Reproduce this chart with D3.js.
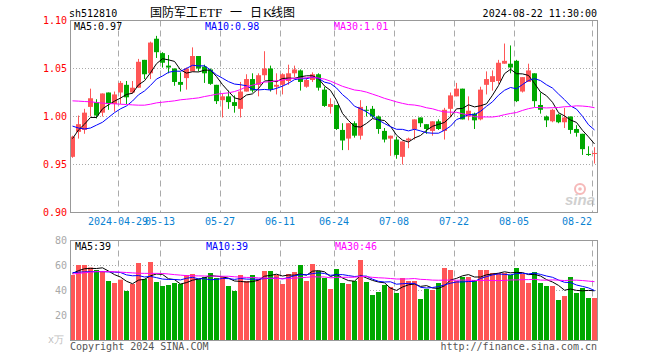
<!DOCTYPE html>
<html><head><meta charset="utf-8">
<script src="https://cdn.jsdelivr.net/npm/d3@7/dist/d3.min.js"></script>
<style>body{margin:0;background:#fff}svg{display:block}</style>
</head><body><svg id="c" width="660" height="360"></svg>
<script>
// ---------- data ----------
const dates = ["2024-04-17","2024-04-18","2024-04-19","2024-04-22","2024-04-23","2024-04-24","2024-04-25","2024-04-26",
"2024-04-29","2024-04-30","2024-05-06","2024-05-07","2024-05-08","2024-05-09","2024-05-10",
"2024-05-13","2024-05-14","2024-05-15","2024-05-16","2024-05-17","2024-05-20","2024-05-21","2024-05-22","2024-05-23","2024-05-24",
"2024-05-27","2024-05-28","2024-05-29","2024-05-30","2024-05-31","2024-06-03","2024-06-04","2024-06-05","2024-06-06","2024-06-07",
"2024-06-11","2024-06-12","2024-06-13","2024-06-14","2024-06-17","2024-06-18","2024-06-19","2024-06-20","2024-06-21",
"2024-06-24","2024-06-25","2024-06-26","2024-06-27","2024-06-28","2024-07-01","2024-07-02","2024-07-03","2024-07-04","2024-07-05",
"2024-07-08","2024-07-09","2024-07-10","2024-07-11","2024-07-12","2024-07-15","2024-07-16","2024-07-17","2024-07-18","2024-07-19",
"2024-07-22","2024-07-23","2024-07-24","2024-07-25","2024-07-26","2024-07-29","2024-07-30","2024-07-31","2024-08-01","2024-08-02",
"2024-08-05","2024-08-06","2024-08-07","2024-08-08","2024-08-09","2024-08-12","2024-08-13","2024-08-14","2024-08-15","2024-08-16",
"2024-08-19","2024-08-20","2024-08-21","2024-08-22"];

const open  = [0.958,0.984,0.986,1.010,1.015,1.004,1.025,1.013,1.025,1.033,1.025,1.030,1.059,1.045,1.081,
1.066,1.053,1.050,1.036,1.040,1.047,1.063,1.052,1.049,1.033,1.017,1.021,1.015,1.008,1.026,
1.039,1.033,1.043,1.050,1.031,1.033,1.037,1.045,1.048,1.031,1.038,1.044,1.028,1.010,1.012,
0.986,0.977,0.993,0.980,1.007,1.008,1.000,0.985,0.977,0.976,0.958,0.975,0.987,0.999,0.992,
0.985,0.995,0.985,1.008,1.021,1.029,1.000,1.003,0.997,1.033,1.036,1.037,1.055,1.055,1.058,
1.026,1.036,1.045,1.012,1.000,0.995,1.002,0.994,1.000,0.987,0.982,0.961,0.961];
const high  = [0.980,1.001,1.008,1.029,1.018,1.024,1.025,1.026,1.037,1.037,1.037,1.060,1.059,1.078,1.084,
1.067,1.064,1.050,1.046,1.051,1.072,1.063,1.054,1.050,1.033,1.024,1.027,1.022,1.036,1.044,
1.045,1.045,1.068,1.053,1.045,1.045,1.054,1.053,1.049,1.040,1.046,1.045,1.031,1.019,1.012,
0.993,0.993,0.995,1.017,1.011,1.011,1.001,0.988,0.980,0.979,0.974,0.978,0.997,0.999,0.992,
0.995,0.997,1.009,1.025,1.035,1.029,1.021,1.004,1.031,1.047,1.048,1.059,1.076,1.074,1.059,
1.041,1.055,1.045,1.025,1.001,1.008,1.003,1.009,1.000,0.991,0.982,0.969,0.968];
const low   = [0.957,0.977,0.982,1.000,0.998,1.000,1.007,1.005,1.013,1.013,1.024,1.030,1.039,1.039,1.061,
1.051,1.045,1.032,1.026,1.028,1.047,1.047,1.035,1.033,1.013,0.999,1.008,1.004,0.999,1.026,
1.025,1.021,1.038,1.026,1.023,1.023,1.033,1.041,1.027,1.030,1.036,1.027,1.010,1.003,0.986,
0.965,0.965,0.978,0.976,1.000,0.998,0.982,0.973,0.959,0.956,0.950,0.967,0.976,0.989,0.982,
0.980,0.986,0.976,0.999,1.021,0.997,0.996,0.987,0.996,1.023,1.027,1.034,1.055,1.045,1.015,
1.025,1.036,1.010,1.003,0.989,0.994,0.993,0.988,0.982,0.979,0.960,0.959,0.951];
const close = [0.979,0.992,1.004,1.019,1.001,1.024,1.013,1.023,1.035,1.020,1.030,1.057,1.044,1.077,1.067,
1.056,1.051,1.036,1.033,1.050,1.063,1.050,1.045,1.034,1.016,1.021,1.015,1.011,1.026,1.039,
1.027,1.043,1.050,1.028,1.033,1.044,1.045,1.049,1.036,1.038,1.044,1.030,1.011,1.013,0.987,
0.975,0.993,0.980,1.010,1.006,1.000,0.987,0.976,0.980,0.960,0.974,0.977,0.997,0.993,0.987,
0.995,0.987,1.007,1.022,1.029,0.997,1.006,0.996,1.028,1.039,1.042,1.056,1.058,1.051,1.016,
1.041,1.048,1.016,1.007,0.996,1.007,0.994,0.999,0.986,0.983,0.966,0.960,0.962];
const volume = [52,60,60,58,56,54.7,47.2,45.6,48.3,39.2,44.8,61.6,48.8,62.4,46.4,43.2,44,45.6,44.8,52,
52.8,48.8,50.4,53.6,49.6,50.4,43.2,39.2,52,47.2,52,48.8,55.2,55.2,52,44.8,52.8,54.4,60,47.2,
60.8,55.2,49.6,40.8,56.8,45.6,44.8,47.2,64,46.4,36,38.4,44,42.4,37.6,49.6,47.2,47.2,32.8,40.8,
40,45.6,57.6,56,47.2,50.4,50.4,48,56,56,53.6,53.6,53.6,52,57.6,52.8,45.6,54.4,45.6,43.2,
43.2,32,35.2,50.4,37.6,41.6,33.6,33.6];

// moving-average values for the bars before a full window exists
const ma5Head  = [0.977,0.986,0.992,0.999];
const ma10Head = [0.990,0.988,0.987,0.988,0.991,0.994,0.999,1.004,1.008];
const ma30Head = [1.0163,1.016,1.0156,1.0153,1.0146,1.0139,1.0135,1.0132,1.0128,1.0125,1.0121,1.0118,1.0118,1.0128,
1.0142,1.0149,1.0156,1.0163,1.0174,1.018,1.0187,1.0194,1.0208,1.0219,1.0232,1.024,1.0246,1.026,1.0281];
const vma5Head  = [53.3,55.5,57,57.3];
const vma10Head = [53.9,54.3,54.5,54.7,54.7,54.7,54.5,54.3,54.0];
const vma30Head = [52.8,53.3,53.8,54.3,54.7,54.7,54.7,54.6,54.3,54.0,53.7,53.4,53.3,53.3,53.3,53.2,52.8,52.3,51.9,
51.5,51.4,51.3,51.2,51.1,51.1,51.0,51.0,50.6,50.3];

const priceTicks = [0.90,0.95,1.00,1.05,1.10];
const volTicks = [20,40,60,80];
const tickDates = ["2024-04-29","2024-05-13","2024-05-27","2024-06-11","2024-06-24","2024-07-08","2024-07-22","2024-08-05","2024-08-22"];
const tickLabels = ["2024-04-29","05-13","05-27","06-11","06-24","07-08","07-22","08-05","08-22"];
const code = "sh512810";
const titleParts = ["国防军工","ETF","一","日","K","线图"];
const stamp = "2024-08-22 11:30:00";
const priceMaLabels = ["MA5:0.97","MA10:0.98","MA30:1.01"];
const volMaLabels = ["MA5:39","MA10:39","MA30:46"];

// ---------- helpers ----------
function ma(arr, n, head){
  return arr.map((v,i)=> i < n-1 ? head[i] : d3.mean(arr.slice(i-n+1,i+1)));
}
const UP = "#ff5656", DOWN = "#00a800";
const MONO = "'DejaVu Sans Mono', 'Liberation Mono', monospace";
const N = dates.length;

const svg = d3.select("#c");
const x = d3.scaleLinear().domain([0, N]).range([70, 598]);
const bw = x(1) - x(0) - 1;
const py = d3.scaleLinear().domain([0.90, 1.10]).range([212.5, 20.5]);
const vy = d3.scaleLinear().domain([0, 80]).range([340, 240]);

// ---------- grids ----------
const gridX = tickDates.map(d => Math.round(x(dates.indexOf(d))) + 0.5);
const g = svg.append("g");
[[20.5,212.5],[240.5,340]].forEach(([t,b])=>{
  g.selectAll(null).data(gridX).join("line")
    .attr("x1",d=>d).attr("x2",d=>d).attr("y1",t).attr("y2",b)
    .attr("stroke","#aaa").attr("stroke-dasharray","6,4");
});
g.selectAll(null).data([0.95,1.00,1.05]).join("line")
  .attr("x1",70).attr("x2",597).attr("y1",d=>py(d)).attr("y2",d=>py(d))
  .attr("stroke","#aaa").attr("stroke-dasharray","1,2");
g.selectAll(null).data([20,40,60]).join("line")
  .attr("x1",70).attr("x2",597).attr("y1",d=>Math.round(vy(d))+0.5).attr("y2",d=>Math.round(vy(d))+0.5)
  .attr("stroke","#aaa").attr("stroke-dasharray","1,2");

// ---------- watermark ----------
const wm = svg.append("g").attr("opacity",0.55);
wm.append("circle").attr("cx",580).attr("cy",189).attr("r",5).attr("fill","none").attr("stroke","#f08080").attr("stroke-width",2);
wm.append("circle").attr("cx",580).attr("cy",189).attr("r",1.8).attr("fill","#f08080");
wm.append("text").attr("x",565).attr("y",205).text("sina")
  .attr("font-family","Arial, 'Liberation Sans', sans-serif").attr("font-style","italic").attr("font-weight","bold")
  .attr("font-size",15).attr("fill","#aaa");

// ---------- candles ----------
const idx = d3.range(N);
const cg = svg.append("g");
cg.selectAll("rect.w").data(idx).join("rect")
  .attr("x",i=>x(i)+2).attr("width",1)
  .attr("y",i=>py(high[i])).attr("height",i=>Math.max(1,py(low[i])-py(high[i])))
  .attr("fill",i=>close[i]>=open[i]?UP:DOWN);
cg.selectAll("rect.b").data(idx).join("rect")
  .attr("x",i=>x(i)).attr("width",bw)
  .attr("y",i=>py(Math.max(open[i],close[i])))
  .attr("height",i=>Math.max(1,Math.abs(py(open[i])-py(close[i]))))
  .attr("fill",i=>close[i]>=open[i]?UP:DOWN);

// ---------- price MAs ----------
const lineP = d3.line().x((d,i)=>x(i)+2.5).y(d=>py(d));
[[ma(close,5,ma5Head),"#000"],[ma(close,10,ma10Head),"#0000ff"],[ma(close,30,ma30Head),"#ff00ff"]].forEach(([s,c])=>{
  svg.append("path").attr("d",lineP(s)).attr("fill","none").attr("stroke",c).attr("stroke-width",1);
});

// ---------- volume ----------
svg.append("g").selectAll("rect").data(idx).join("rect")
  .attr("x",i=>x(i)).attr("width",bw)
  .attr("y",i=>vy(volume[i])).attr("height",i=>vy(0)-vy(volume[i]))
  .attr("fill",i=>close[i]>=open[i]?UP:DOWN);
const lineV = d3.line().x((d,i)=>x(i)+2.5).y(d=>vy(d));
[[ma(volume,5,vma5Head),"#000"],[ma(volume,10,vma10Head),"#0000ff"],[ma(volume,30,vma30Head),"#ff00ff"]].forEach(([s,c])=>{
  svg.append("path").attr("d",lineV(s)).attr("fill","none").attr("stroke",c).attr("stroke-width",1);
});

// ---------- frames ----------
svg.append("rect").attr("x",70.5).attr("y",20.5).attr("width",527).attr("height",192)
  .attr("fill","none").attr("stroke","#999");
svg.append("rect").attr("x",70.5).attr("y",240.5).attr("width",527).attr("height",100)
  .attr("fill","none").attr("stroke","#999");

// ---------- axes text ----------
const t = svg.append("g").attr("font-family",MONO).attr("font-size",10);
t.selectAll(null).data(priceTicks).join("text")
  .attr("x",67).attr("y",d=>py(d)+3.5).attr("text-anchor","end").attr("fill","#ff0000")
  .text(d=>d.toFixed(2));
t.selectAll(null).data(volTicks).join("text")
  .attr("x",67).attr("y",d=>vy(d)+3.5).attr("text-anchor","end").attr("fill","#a8a8a8")
  .text(d=>d);
t.append("text").attr("x",64).attr("y",343).attr("text-anchor","end").attr("fill","#c0c0c0").text("x万");
t.selectAll(null).data(tickLabels).join("text")
  .attr("x",(d,i)=>x(dates.indexOf(tickDates[i])))
  .attr("text-anchor",(d,i)=>i===tickLabels.length-1?"end":"middle")
  .attr("y",225).attr("fill","#0a82d2").text(d=>d);

// ---------- header & legends ----------
t.append("text").attr("x",69).attr("y",17).attr("fill","#000").text(code);
const titleX = [150,199,230,250,263,271];
const titleSerif = [false,true,false,false,true,false];
const tt = svg.append("text").attr("y",16.5).attr("font-size",12).attr("fill","#000");
titleParts.forEach((s,i)=>{
  tt.append("tspan").attr("x",titleX[i])
    .attr("font-family",titleSerif[i]?"'Liberation Serif', serif":"'Noto Sans CJK SC', sans-serif")
    .attr("font-size",titleSerif[i]?13:12).text(s);
});
t.append("text").attr("x",597).attr("y",17).attr("text-anchor","end").attr("fill","#000").text(stamp);
const maCol = ["#000","#0000ff","#ff00ff"], maX = [74,205,334];
priceMaLabels.forEach((s,i)=>t.append("text").attr("x",maX[i]).attr("y",30).attr("fill",maCol[i]).text(s));
volMaLabels.forEach((s,i)=>t.append("text").attr("x",maX[i]+1).attr("y",250).attr("fill",maCol[i]).text(s));
t.append("text").attr("x",70).attr("y",350).attr("fill","#555").text("Copyright 2024 SINA.COM");
t.append("text").attr("x",597).attr("y",350).attr("text-anchor","end").attr("fill","#555").text("http://finance.sina.com.cn");
</script></body></html>
